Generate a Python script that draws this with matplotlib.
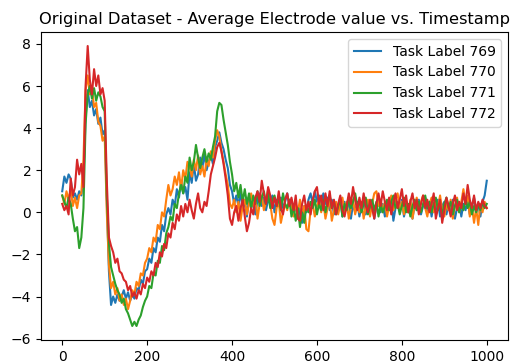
import numpy as np
import matplotlib
matplotlib.use("Agg")
import matplotlib.pyplot as plt

# Average electrode value per task label, read every 5 timestamps (0..1000)
timestamps = np.arange(0, 1001, 5)

task_769 = [
    1.0, 1.7, 1.4, 1.8, 1.6, 0.7, 0.9, 0.6, 1.0, 0.8,
    1.6, 4.5, 5.8, 5.0, 5.3, 4.6, 4.9, 4.2, 4.5, 3.7,
    3.9, 0.5, -2.8, -4.4, -4.0, -4.3, -3.9, -4.2, -4.0, -3.7,
    -4.1, -3.8, -4.2, -3.9, -4.1, -3.6, -3.7, -3.2, -3.4, -2.8,
    -2.7, -2.2, -2.4, -1.7, -1.9, -1.2, -1.4, -0.6, -0.9, -0.1,
    0.2, -0.1, 0.6, 0.3, 1.1, 0.7, 1.5, 0.9, 1.2, 0.6,
    1.9, 1.4, 2.3, 1.5, 1.8, 2.6, 2.1, 2.8, 2.0, 2.4,
    2.7, 2.3, 3.1, 3.4, 3.8, 3.3, 3.0, 2.5, 2.1, 1.3,
    1.0, 0.4, 0.8, 0.3, 1.0, 0.1, 0.6, -0.2, 0.7, 0.2,
    0.5, -0.1, 0.6, 0.9, 0.3, 0.7, 0.1, 0.6, 0.4, 0.8,
    0.0, 0.6, 0.3, 0.7, 0.2, 0.5, 0.9, 0.3, 0.6, -0.1,
    0.4, -0.3, 0.2, -0.5, 0.3, 0.0, 0.6, 0.9, 0.4, 1.0,
    0.5, 0.8, 0.2, 0.9, 0.4, 0.7, 0.1, 0.6, -0.1, 0.4,
    0.2, 0.7, -0.2, 0.5, 0.1, 0.6, -0.3, 0.4, 0.0, 0.5,
    -0.2, 0.3, 0.6, -0.1, 0.4, 0.0, 0.5, -0.3, 0.3, 0.7,
    0.0, 0.4, -0.2, 0.5, 0.1, 0.6, -0.4, 0.2, 0.5, 0.1,
    0.6, -0.2, 0.3, 0.0, 0.5, -0.3, 0.4, 0.1, 0.6, -0.1,
    0.3, 0.7, 0.0, 0.5, -0.2, 0.4, 0.1, 0.6, -0.2, 0.3,
    0.5, -0.1, 0.4, 0.0, 0.6, -0.3, 0.2, 0.5, -0.2, 0.4,
    0.1, 0.6, -0.1, 0.3, 0.7, 0.0, 0.4, -0.2, 0.5, 0.8,
    1.5,
]
task_770 = [
    0.8, 0.4, 1.0, 0.6, 1.1, 0.3, 0.7, 0.2, 0.8, 0.9,
    2.5, 5.8, 6.5, 5.6, 5.9, 5.0, 5.2, 4.3, 4.1, 3.4,
    3.6, 0.0, -2.5, -3.6, -3.3, -3.9, -3.6, -4.2, -3.9, -4.4,
    -4.1, -4.6, -4.2, -3.7, -3.9, -3.3, -3.5, -2.9, -3.0, -2.4,
    -2.2, -1.7, -1.9, -1.2, -1.4, -0.6, -0.8, 0.0, -0.2, 0.6,
    1.3, 0.8, 1.1, 1.7, 1.3, 1.9, 1.1, 2.0, 1.6, 2.4,
    2.2, 1.7, 2.5, 2.0, 2.7, 1.8, 2.2, 1.7, 2.5, 2.2,
    2.9, 2.6, 3.4, 3.9, 3.6, 2.9, 2.4, 1.8, 1.3, 0.4,
    0.2, 0.6, 0.0, 0.5, -0.4, 0.3, 0.6, -0.1, 0.4, 0.9,
    0.3, 0.7, -0.3, 0.4, 0.8, 0.1, 0.5, 1.1, 0.4, -0.3,
    -0.6, 0.2, 0.5, -0.5, 0.0, 0.4, 0.1, 0.6, 0.2, -0.2,
    0.4, 0.0, 0.6, -0.1, 0.3, -0.8, -0.9, 0.1, 0.4, -0.2,
    0.3, 0.6, 0.0, 0.5, -0.3, 0.2, 0.6, -0.4, 0.1, 0.5,
    -0.1, 0.4, 0.7, 0.0, 0.5, -0.3, 0.2, 0.6, -0.1, 0.4,
    0.0, 0.5, -0.3, 0.3, 0.6, -0.2, 0.4, 0.9, 1.0, 0.3,
    0.6, 0.0, 0.5, -0.2, 0.3, 0.8, 0.1, 0.6, 0.9, 0.2,
    0.5, -0.1, 0.4, 0.0, 0.6, -0.3, 0.3, 0.7, 0.1, 0.5,
    0.8, 0.2, -0.2, 0.4, 0.7, 0.0, 0.5, 0.2, 0.8, 0.1,
    -0.2, 0.4, 0.1, 0.6, -0.3, 0.3, 0.7, 0.0, 0.5, 1.1,
    0.4, 0.8, -0.2, 0.3, -0.5, 0.2, -0.6, 0.4, 0.0, 0.5,
    0.2,
]
task_771 = [
    0.8, 0.5, 0.2, 0.7, 0.4, -0.3, -0.9, -0.7, -1.7, -1.2,
    0.2, 4.2, 5.6, 6.0, 5.4, 5.9, 5.3, 5.7, 5.5, 5.0,
    4.8, 0.8, -1.5, -2.6, -3.0, -3.4, -3.7, -3.9, -4.3, -4.1,
    -4.6, -4.8, -5.1, -5.4, -5.2, -5.4, -5.1, -4.9, -4.5, -4.2,
    -4.0, -3.5, -3.6, -2.9, -3.0, -2.3, -2.4, -1.6, -1.8, -1.0,
    -0.7, -0.2, -0.4, 0.4, 0.2, 0.9, 1.3, 0.9, 1.7, 1.4,
    2.6, 2.0, 2.4, 3.2, 2.6, 2.1, 2.6, 3.0, 2.4, 2.8,
    2.5, 3.1, 3.6, 4.8, 5.2, 5.1, 4.4, 3.8, 3.2, 2.4,
    1.8, 1.0, 1.4, 0.7, 1.3, 0.5, 1.1, 0.4, 0.9, 0.2,
    0.8, 0.4, 1.0, 0.3, 0.7, 1.0, 0.4, 0.9, 0.2, 0.6,
    0.8, 0.3, 0.7, 0.1, 0.9, 0.4, 0.2, 0.6, -0.2, 0.3,
    -0.4, 0.2, -0.7, 0.0, -0.5, 0.3, 0.0, 0.5, 0.2, 0.6,
    -0.1, 0.4, 0.1, 0.6, 0.0, 0.5, 0.8, 0.2, 0.5, -0.1,
    0.3, 0.6, -0.2, 0.4, 0.1, 0.7, 0.2, 0.5, 0.9, 0.3,
    0.5, 0.0, 0.4, 0.7, -0.1, 0.3, 0.6, 0.1, 0.5, -0.2,
    0.4, 0.0, 0.3, 0.6, 0.1, 0.5, 0.8, 0.2, 0.4, -0.1,
    0.3, 0.7, 0.0, 0.4, -0.2, 0.3, 0.6, 0.1, 0.5, 0.0,
    0.4, 0.8, 0.2, 0.5, 0.0, 0.4, 0.7, 0.1, 0.3, -0.1,
    0.4, 0.7, 0.2, 0.5, -0.1, 0.3, 0.6, 0.0, 0.4, 0.1,
    0.6, 0.2, 0.5, -0.1, 0.3, 0.0, 0.4, 0.1, 0.5, 0.2,
    0.4,
]
task_772 = [
    0.4, 0.1, 0.3, -0.1, 1.6, 0.8, 1.2, 2.5, 1.8, 2.3,
    1.2, 6.0, 7.9, 6.3, 5.6, 6.8, 6.0, 6.5, 5.6, 5.9,
    5.3, 1.5, -1.2, -1.6, -1.9, -2.4, -2.2, -2.8, -2.9, -3.2,
    -3.3, -3.7, -3.5, -4.0, -3.8, -4.1, -3.7, -3.9, -3.4, -3.6,
    -3.1, -3.3, -2.8, -3.0, -2.4, -2.6, -1.9, -2.1, -1.5, -1.7,
    -1.0, -1.2, -0.5, -0.8, -0.1, -0.4, 0.3, -0.2, 0.4, 0.0,
    0.6, 0.1, -0.3, 0.4, 0.9, 0.2, 0.0, 0.5, 0.3, 1.0,
    1.8, 2.2, 2.6, 3.1, 3.3, 2.9, 2.3, 1.6, 0.8, -0.3,
    -0.6, 0.0, 0.3, -0.4, 0.2, 0.6, -0.2, -0.9, -0.5, 0.2,
    -0.1, 0.7, 1.0, 0.5, 1.5, 0.9, 0.4, 1.2, 0.8, 0.2,
    0.7, 0.3, 1.0, 0.2, -0.1, 0.6, 0.9, 0.3, 0.7, 0.1,
    0.8, -0.3, -0.4, 0.4, 0.8, 0.1, 0.5, -0.1, 0.6, 1.0,
    1.2, 0.4, 0.8, 0.1, 0.9, 0.3, 1.0, 0.2, 0.6, -0.1,
    0.4, 0.8, 0.1, -0.2, 0.3, 0.9, 0.4, 1.2, 0.6, 0.1,
    0.7, 0.2, 0.9, 0.3, 0.0, 0.6, 0.2, -0.3, 0.4, 0.9,
    0.3, 1.0, 0.5, 0.1, 0.7, -0.1, 0.5, 0.9, 0.2, 0.6,
    1.1, 0.3, 0.8, 0.0, 0.5, 0.9, 0.2, 0.6, -0.1, 0.4,
    0.8, 0.2, 0.6, 0.0, 0.4, 0.9, -0.3, 0.2, 0.6, -0.5,
    0.1, 0.7, 0.3, -0.2, 0.4, 0.8, 0.1, 0.5, 0.2, 0.9,
    0.4, 1.3, 0.6, 0.2, 0.8, 0.1, 0.5, 0.2, 0.6, 0.3,
    0.2,
]

series = [task_769, task_770, task_771, task_772]
labels = ["Task Label 769", "Task Label 770", "Task Label 771", "Task Label 772"]

fig = plt.figure(figsize=(5.2, 3.64), dpi=100)
ax = fig.add_axes([41 / 520, 24 / 364, 467 / 520, 308 / 364])

for vals, lab in zip(series, labels):
    ax.plot(timestamps, vals, label=lab)

ax.set_title("Original Dataset - Average Electrode value vs. Timestamp", fontsize=11.7)
ax.legend(loc="upper right")

fig.savefig("out.png", dpi=100, facecolor="white")
